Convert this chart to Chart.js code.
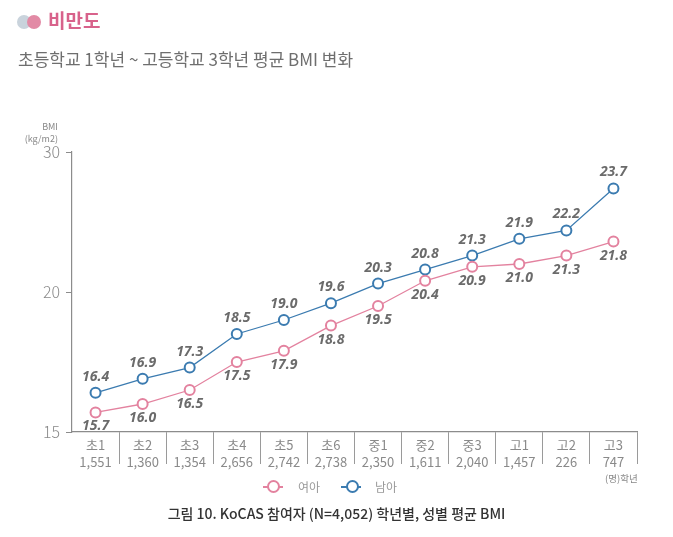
<!DOCTYPE html>
<html>
<head>
<meta charset="utf-8">
<script src="https://cdn.jsdelivr.net/npm/chart.js@4/dist/chart.umd.min.js"></script>
<style>
  body { margin: 0; background: #fff; font-family: "Noto Sans CJK KR", "Noto Sans", sans-serif; }
  #wrap { position: relative; width: 673px; height: 537px; overflow: hidden; }
  #chartCanvas { position: absolute; left: 0; top: 0; }
  .txt { position: absolute; white-space: nowrap; }
  .dot { position: absolute; width: 14px; height: 14px; border-radius: 50%; }
  .leg { position: absolute; top: 478px; height: 18px; font-size: 12px; color: #999; }
  .leg .ln { position: absolute; top: 8px; width: 20px; height: 2px; }
  .leg .cr { position: absolute; top: 2px; width: 9px; height: 9px; border-radius: 50%; background: #fff; border-width: 2px; border-style: solid; }
</style>
</head>
<body>
<div id="wrap">
  <canvas id="chartCanvas" width="673" height="537"></canvas>

  <div class="dot" style="left:17px;top:15px;background:#c9d3dc;"></div>
  <div class="dot" style="left:27px;top:15px;background:#e28aa5;"></div>
  <div class="txt" style="left:48px;top:6px;font-size:19px;font-weight:bold;color:#d8628b;">비만도</div>
  <div class="txt" style="left:18px;top:46px;font-size:17px;color:#6e6e6e;">초등학교 1학년 ~ 고등학교 3학년 평균 BMI 변화</div>

  <div class="txt" style="right:615px;top:121px;font-size:9px;color:#888;text-align:right;line-height:12px;">BMI<br>(kg/m2)</div>
  <div class="txt" style="left:605px;top:471px;font-size:9.5px;color:#888;">(명)학년</div>

  <div class="leg" style="left:263px;width:60px;">
    <div class="ln" style="left:0;background:#e3829f;"></div>
    <div class="cr" style="left:4px;border-color:#e3829f;"></div>
    <span style="position:absolute;left:35px;top:0;">여아</span>
  </div>
  <div class="leg" style="left:341px;width:60px;">
    <div class="ln" style="left:0;background:#3b7bb0;"></div>
    <div class="cr" style="left:5px;border-color:#3b7bb0;"></div>
    <span style="position:absolute;left:34px;top:0;">남아</span>
  </div>

  <div class="txt" style="left:0;width:673px;text-align:center;top:503px;font-size:14px;color:#333;font-weight:500;">그림 10. KoCAS 참여자 (N=4,052) 학년별, 성별 평균 BMI</div>
</div>

<script>
// 학년 / 참여자 수
var grades = ['초1', '초2', '초3', '초4', '초5', '초6', '중1', '중2', '중3', '고1', '고2', '고3'];
var counts = ['1,551', '1,360', '1,354', '2,656', '2,742', '2,738', '2,350', '1,611', '2,040', '1,457', '226', '747'];

// 평균 BMI
var girls = [15.7, 16.0, 16.5, 17.5, 17.9, 18.8, 19.5, 20.4, 20.9, 21.0, 21.3, 21.8];
var boys = [16.4, 16.9, 17.3, 18.5, 19.0, 19.6, 20.3, 20.8, 21.3, 21.9, 22.2, 23.7];

// y축 눈금 (원본 그림의 표기 그대로)
var yTickValues = [15, 20, 25];
var yTickLabels = ['15', '20', '30'];

var pink = '#e3829f';
var blue = '#3b7bb0';

var valueLabels = {
    id: 'valueLabels',
    afterDatasetsDraw: function(chart) {
        var ctx = chart.ctx;
        ctx.save();
        ctx.font = 'italic bold 14px "Noto Sans", "DejaVu Sans", sans-serif';
        ctx.fillStyle = '#6b6b6b';
        ctx.textAlign = 'center';
        ctx.textBaseline = 'middle';
        chart.data.datasets.forEach(function(ds, i) {
            var meta = chart.getDatasetMeta(i);
            meta.data.forEach(function(pt, j) {
                var dy = ds.labelAbove ? -16 : 14;
                ctx.fillText(ds.data[j].toFixed(1), pt.x, pt.y + dy);
            });
        });
        ctx.restore();
    }
};

var labels = grades.map(function(g, i) { return [g, counts[i]]; });

var bmiChart = new Chart(document.getElementById('chartCanvas'), {
    type: 'line',
    data: {
        labels: labels,
        datasets: [{
            label: '여아',
            data: girls,
            borderColor: pink,
            backgroundColor: '#fff',
            borderWidth: 1.3,
            pointRadius: 5,
            pointBorderWidth: 2,
            pointBorderColor: pink,
            pointBackgroundColor: '#fff',
            labelAbove: false
        }, {
            label: '남아',
            data: boys,
            borderColor: blue,
            backgroundColor: '#fff',
            borderWidth: 1.3,
            pointRadius: 5,
            pointBorderWidth: 2,
            pointBorderColor: blue,
            pointBackgroundColor: '#fff',
            labelAbove: true
        }]
    },
    options: {
        responsive: false,
        animation: false,
        layout: { padding: { top: 152, right: 36, left: 0, bottom: 0 } },
        plugins: {
            legend: { display: false },
            tooltip: { enabled: false }
        },
        scales: {
            x: {
                offset: true,
                afterFit: function(scale) { scale.height = 105; },
                border: { display: true, color: '#8c8c8c', width: 1.2 },
                grid: {
                    offset: true,
                    drawOnChartArea: false,
                    tickLength: 32,
                    color: function(c) { return (c.index === 0 || c.index === grades.length) ? 'rgba(0,0,0,0)' : '#9a9a9a'; }
                },
                ticks: {
                    padding: -27,
                    color: '#8a8a8a',
                    font: { size: 13, family: '"Noto Sans CJK KR", sans-serif', lineHeight: 1.3 },
                    maxRotation: 0,
                    autoSkip: false
                }
            },
            y: {
                min: 15,
                max: 25,
                afterFit: function(scale) { scale.width = 72; },
                afterBuildTicks: function(scale) {
                    scale.ticks = yTickValues.map(function(v) { return { value: v }; });
                },
                border: { display: true, color: '#8c8c8c', width: 1.2 },
                grid: { drawOnChartArea: false, tickLength: 6, color: '#8c8c8c' },
                ticks: {
                    padding: 6,
                    color: '#8a8a8a',
                    font: { size: 16, family: '"Noto Sans CJK KR", sans-serif', weight: '300' },
                    callback: function(v) {
                        var k = yTickValues.indexOf(v);
                        return k >= 0 ? yTickLabels[k] : '';
                    }
                }
            }
        }
    },
    plugins: [valueLabels]
});
</script>
</body>
</html>
